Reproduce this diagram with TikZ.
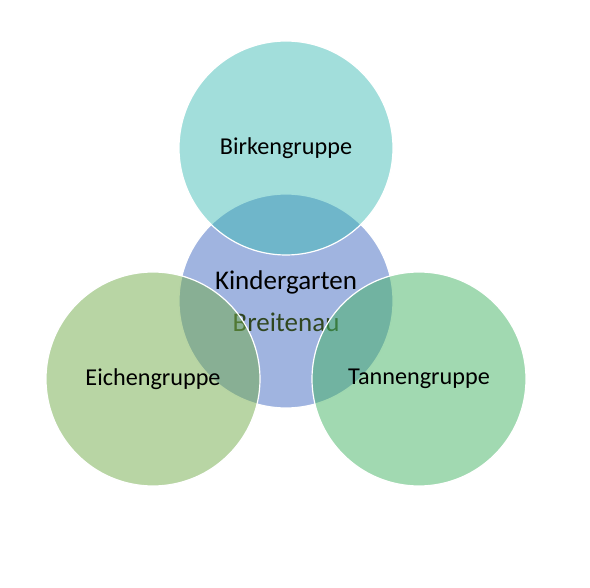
\documentclass[tikz,border=0pt]{standalone}
\usepackage{fontspec}
\setmainfont{Carlito}
\usepackage{tikz}
\usetikzlibrary{positioning}

\definecolor{kitablue}{RGB}{160,180,224}
\definecolor{birketeal}{RGB}{57,185,179}
\definecolor{eichegreen}{RGB}{113,171,73}
\definecolor{tannegreen}{RGB}{67,179,99}
\definecolor{breitgreen}{RGB}{48,70,32}

\begin{document}
\begin{tikzpicture}[x=1pt, y=-1pt,
  ring/.style={circle, draw=white, line width=1.2pt, minimum size=214pt, inner sep=0pt,
    text opacity=1, font=\fontsize{24.2}{28}\selectfont}]
  \useasboundingbox (0,0) rectangle (590,588);
  \node (kita) [ring, fill=kitablue, align=center, font=\fontsize{27}{42}\selectfont] at (286,301)
    {Kindergarten\\ \textcolor{breitgreen}{Breitenau}};
  \node (birke) [ring, fill=birketeal, fill opacity=0.47] at (286,148) {Birkengruppe};
  \node (eiche) [ring, fill=eichegreen, fill opacity=0.5] at (153,379) {Eichengruppe};
  \node (tanne) [ring, fill=tannegreen, fill opacity=0.5] at (419,379) {Tannengruppe};
\end{tikzpicture}
\end{document}
